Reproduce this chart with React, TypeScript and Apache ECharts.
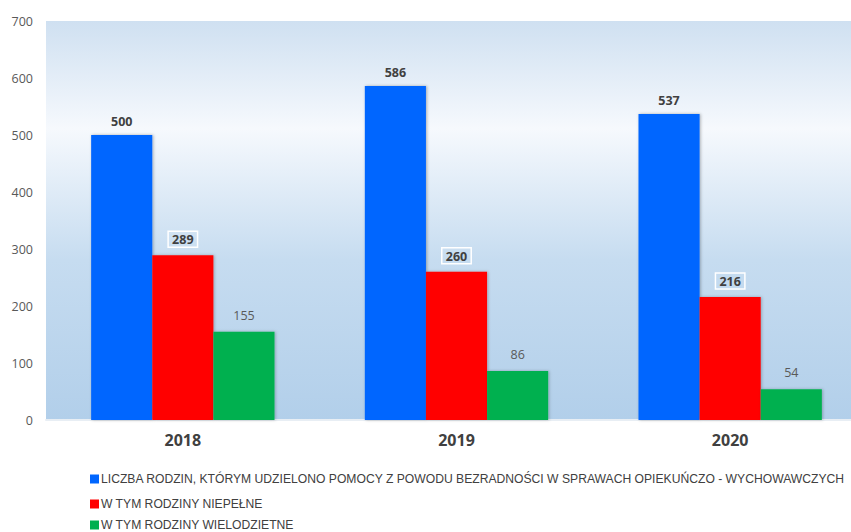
import React, { useEffect, useRef } from "react";
import * as echarts from "echarts";

const categories = ["2018", "2019", "2020"];
const seriesNames = [
  "LICZBA RODZIN, KTÓRYM UDZIELONO POMOCY Z POWODU BEZRADNOŚCI W SPRAWACH OPIEKUŃCZO - WYCHOWAWCZYCH",
  "W TYM RODZINY NIEPEŁNE",
  "W TYM RODZINY WIELODZIETNE",
];
const totalFamilies = [500, 586, 537];
const singleParent = [289, 260, 216];
const largeFamilies = [155, 86, 54];
const yTicks = { min: 0, max: 700, interval: 100 };

export default function App() {
  const ref = useRef<HTMLDivElement>(null);
  useEffect(() => {
    if (!ref.current) return;
    const chart = echarts.init(ref.current, null, { renderer: "svg" });
    const font = "'Open Sans', 'DejaVu Sans', sans-serif";
    const legendRowTops = [473, 498, 519];
    const legends = seriesNames.map((name, i) => ({
      orient: "horizontal",
      left: 90,
      top: legendRowTops[i],
      padding: 0,
      itemWidth: 9,
      itemHeight: 9,
      icon: "rect",
      textStyle: {
        fontFamily: "'Liberation Sans', Arial, sans-serif",
        fontSize: 12.15,
        color: "#404040",
        padding: [0, 0, 0, -3],
      },
      data: [name],
    }));
    chart.setOption({
      animation: false,
      grid: {
        left: 46,
        top: 21,
        right: 0,
        bottom: 112,
        show: true,
        borderWidth: 0,
        backgroundColor: {
          type: "linear",
          x: 0,
          y: 0,
          x2: 0,
          y2: 1,
          colorStops: [
            { offset: 0, color: "#cfe0f1" },
            { offset: 0.27, color: "#f6f9fd" },
            { offset: 0.6, color: "#c6dcf0" },
            { offset: 1, color: "#b2cfea" },
          ],
        },
      },
      legend: legends,
      xAxis: {
        type: "category",
        data: categories,
        axisLine: { show: true, lineStyle: { color: "#e8eef4", width: 2 } },
        axisTick: { show: false },
        axisLabel: {
          margin: 12,
          fontSize: 16,
          fontWeight: "bold",
          color: "#404040",
          fontFamily: font,
        },
      },
      yAxis: {
        type: "value",
        min: yTicks.min,
        max: yTicks.max,
        interval: yTicks.interval,
        splitLine: { show: false },
        axisLine: { show: false },
        axisTick: { show: false },
        axisLabel: {
          margin: 13,
          fontSize: 12.5,
          color: "#595959",
          fontFamily: font,
        },
      },
      series: [
        {
          name: seriesNames[0],
          type: "bar",
          data: totalFamilies,
          barGap: "0%",
          barCategoryGap: "33%",
          itemStyle: { color: "#0066ff", shadowColor: "rgba(0,0,0,0.3)", shadowBlur: 3, shadowOffsetX: 1 },
          label: {
            show: true,
            position: "top",
            distance: 7,
            fontSize: 12.5,
            fontWeight: "bold",
            color: "#404040",
            fontFamily: font,
          },
        },
        {
          name: seriesNames[1],
          type: "bar",
          data: singleParent,
          barGap: "0%",
          barCategoryGap: "33%",
          itemStyle: { color: "#ff0000", shadowColor: "rgba(0,0,0,0.25)", shadowBlur: 3, shadowOffsetX: 1 },
          label: {
            show: true,
            position: "top",
            distance: 8,
            fontSize: 12.5,
            fontWeight: "bold",
            color: "#404040",
            fontFamily: font,
            borderColor: "#ffffff",
            borderWidth: 1.5,
            padding: [2, 4, 1, 4],
          },
        },
        {
          name: seriesNames[2],
          type: "bar",
          data: largeFamilies,
          barGap: "0%",
          barCategoryGap: "33%",
          itemStyle: { color: "#00b050", shadowColor: "rgba(0,0,0,0.25)", shadowBlur: 3, shadowOffsetX: 1 },
          label: {
            show: true,
            position: "top",
            distance: 10,
            fontSize: 12.5,
            color: "#595959",
            fontFamily: font,
          },
        },
      ],
    });
    return () => chart.dispose();
  }, []);
  return (
    <div style={{ width: 851, height: 532, position: "absolute", left: 0, top: 0, overflow: "hidden" }}>
      <div ref={ref} style={{ width: 867, height: 532 }} />
    </div>
  );
}
